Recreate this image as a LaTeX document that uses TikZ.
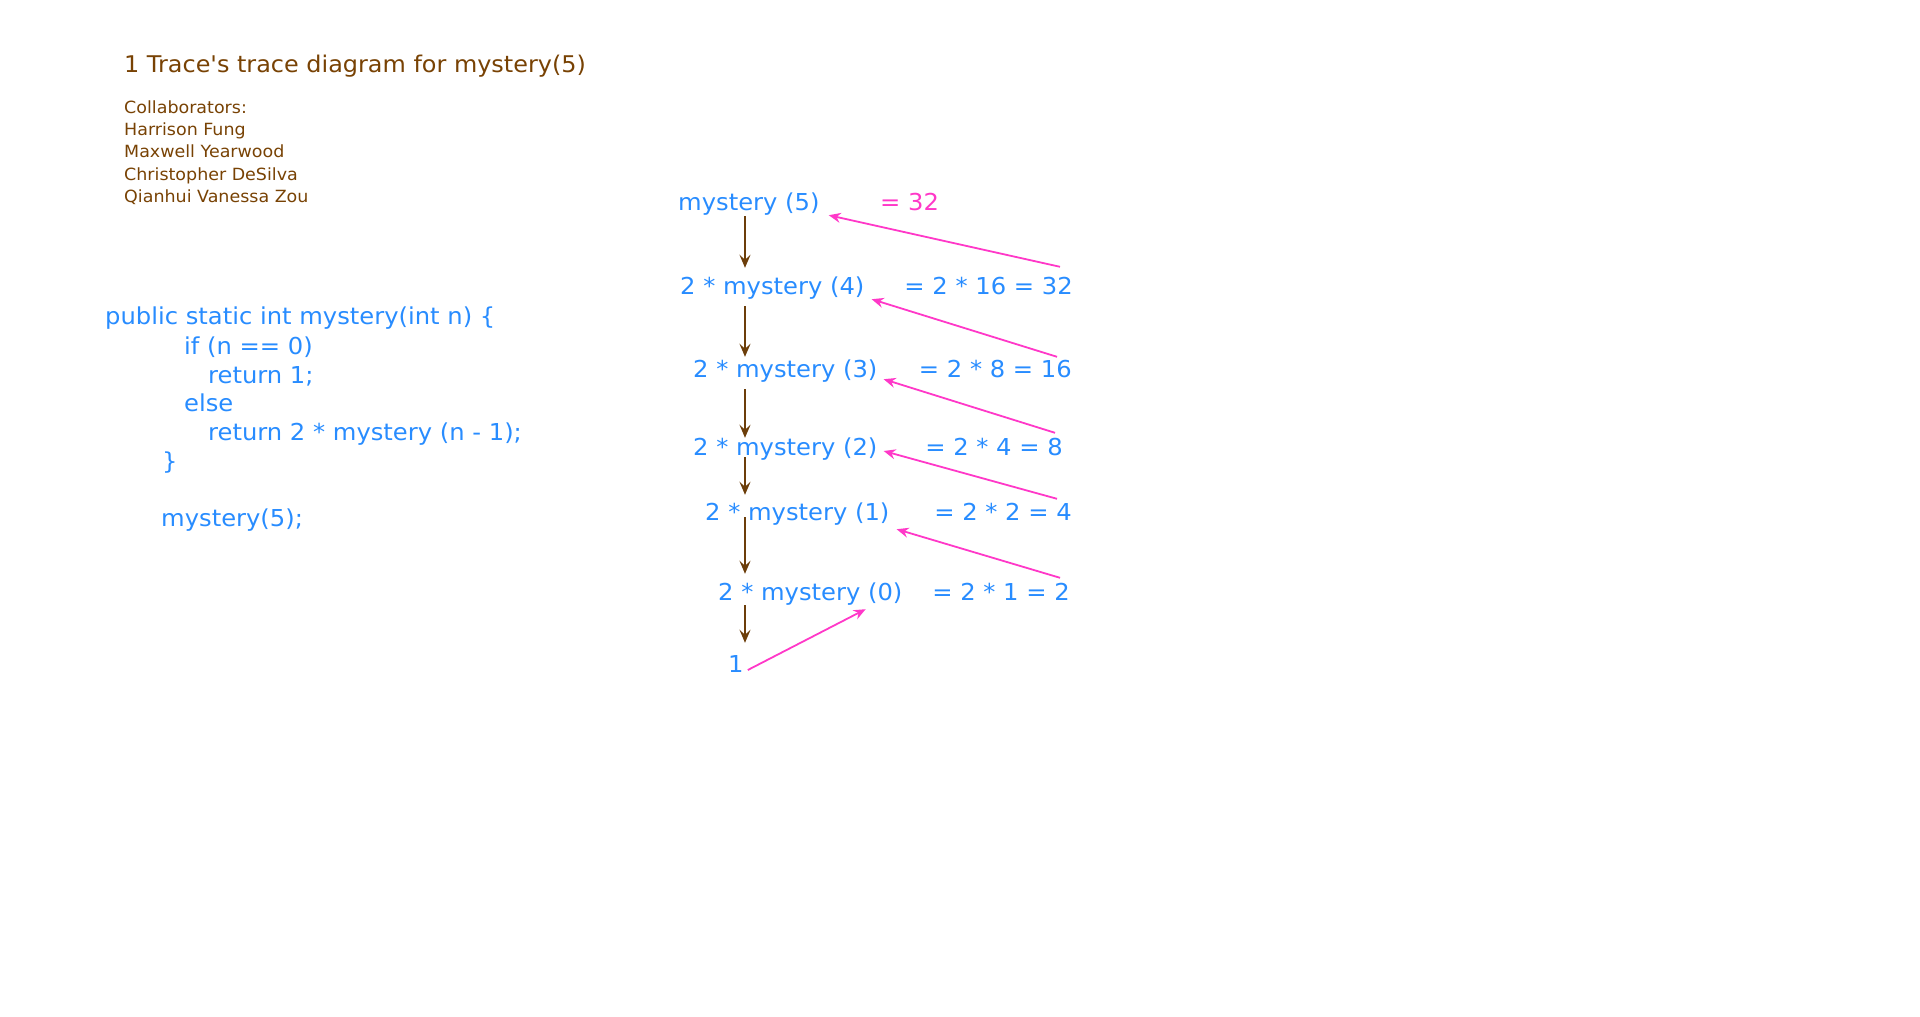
\documentclass[tikz,border=0pt]{standalone}
\usepackage{fontspec}
\setmainfont[FakeStretch=1.04, Ligatures=TeXOff]{DejaVu Sans}
\usetikzlibrary{arrows.meta}
\definecolor{titlebrown}{RGB}{120,66,4}
\definecolor{callbrown}{RGB}{108,62,10}
\definecolor{codeblue}{RGB}{40,140,255}
\definecolor{retpink}{RGB}{255,56,200}
\begin{document}
\begin{tikzpicture}
			[x=1pt, y=-1pt,
			every node/.style={anchor=base west, inner sep=0pt},
			big/.style={font=\fontsize{23.3}{28}\selectfont},
			blue/.style={big, text=codeblue, text height=18pt, text depth=5pt},
			eq/.style={blue, anchor=base east},
			down/.style={callbrown, line width=1.8pt, -{Stealth[length=13pt,width=11pt,inset=5pt]}},
			back/.style={retpink, line width=1.8pt, -{Stealth[length=12pt,width=10pt,inset=4pt]}}]
			\useasboundingbox (0,0) rectangle (1920,1017);
			\node[font=\fontsize{23}{28}\selectfont, text=titlebrown] (title) at (124,72) {1 Trace's trace diagram for mystery(5)};
			\foreach \who [count=\i] in {Collaborators:, Harrison Fung, Maxwell Yearwood, Christopher DeSilva, Qianhui Vanessa Zou}
				\node[font=\fontsize{16.8}{20}\selectfont, text=titlebrown] (collab\i) at (124,{113.3+22.3*(\i-1)}) {\who};
			
			\node[blue] (c1) at (105,324) {public static int mystery(int n) \{};
			\node[blue] (c2) at (184,354) {if (n == 0)};
			\node[blue] (c3) at (208,383) {return 1;};
			\node[blue] (c4) at (184,411) {else};
			\node[blue] (c5) at (208,440) {return 2 * mystery (n - 1);};
			\node[blue] (c6) at (162,469) {\}};
			\node[blue] (c7) at (161,526) {mystery(5);};
			
			\node[blue] (m5) at (678,210) {mystery (5)};
			\node[blue] (m4) at (680,294) {2 * mystery (4)};
			\node[blue] (m3) at (693,377) {2 * mystery (3)};
			\node[blue] (m2) at (693,455) {2 * mystery (2)};
			\node[blue] (m1) at (705,520) {2 * mystery (1)};
			\node[blue] (m0) at (718,600) {2 * mystery (0)};
			\node[blue] (one) at (728,672) {1};
			
			\node[blue, text=retpink] (r5) at (880,210) {= 32};
			\node[eq] (e4) at (1073,294) {= 2 * 16 = 32};
			\node[eq] (e3) at (1072,377) {= 2 * 8 = 16};
			\node[eq] (e2) at (1063,455) {= 2 * 4 = 8};
			\node[eq] (e1) at (1072,520) {= 2 * 2 = 4};
			\node[eq] (e0) at (1070,600) {= 2 * 1 = 2};
			
			\coordinate (col) at (745,0);
			\draw[down, shorten <=1pt, shorten >=8pt] (m5.south -| col) -- (m4.north -| col);
			\draw[down, shorten <=7pt, shorten >=2pt] (m4.south -| col) -- (m3.north -| col);
			\draw[down, shorten <=7pt, shorten >=-1pt] (m3.south -| col) -- (m2.north -| col);
			\draw[down, shorten <=-3pt, shorten >=7pt] (m2.south -| col) -- (m1.north -| col);
			\draw[down, shorten <=-8pt, shorten >=8pt] (m1.south -| col) -- (m0.north -| col);
			\draw[down, shorten >=11pt] (m0.south -| col) -- (one.north -| col);
			
			\draw[back] ([xshift=-13pt, yshift=9pt]e4.north east) -- ([xshift=9pt]m5.south east);
			\draw[back] ([xshift=-15pt, yshift=2pt]e3.north east) -- ([xshift=7pt]m4.south east);
			\draw[back] ([xshift=-8pt, yshift=4pt]e2.north east) -- ([xshift=6pt, yshift=3pt]m3.south east);
			\draw[back] ([xshift=-15pt, yshift=3pt]e1.north east) -- ([xshift=6pt, yshift=-2.5pt]m2.east);
			\draw[back] ([xshift=-10pt, yshift=4pt]e0.north east) -- ([xshift=7pt, yshift=-4pt]m1.south east);
			\draw[back] ([xshift=4pt, yshift=-4.5pt]one.east) -- ([xshift=-37pt, yshift=-4pt]m0.south east);
		\end{tikzpicture}
\end{document}
